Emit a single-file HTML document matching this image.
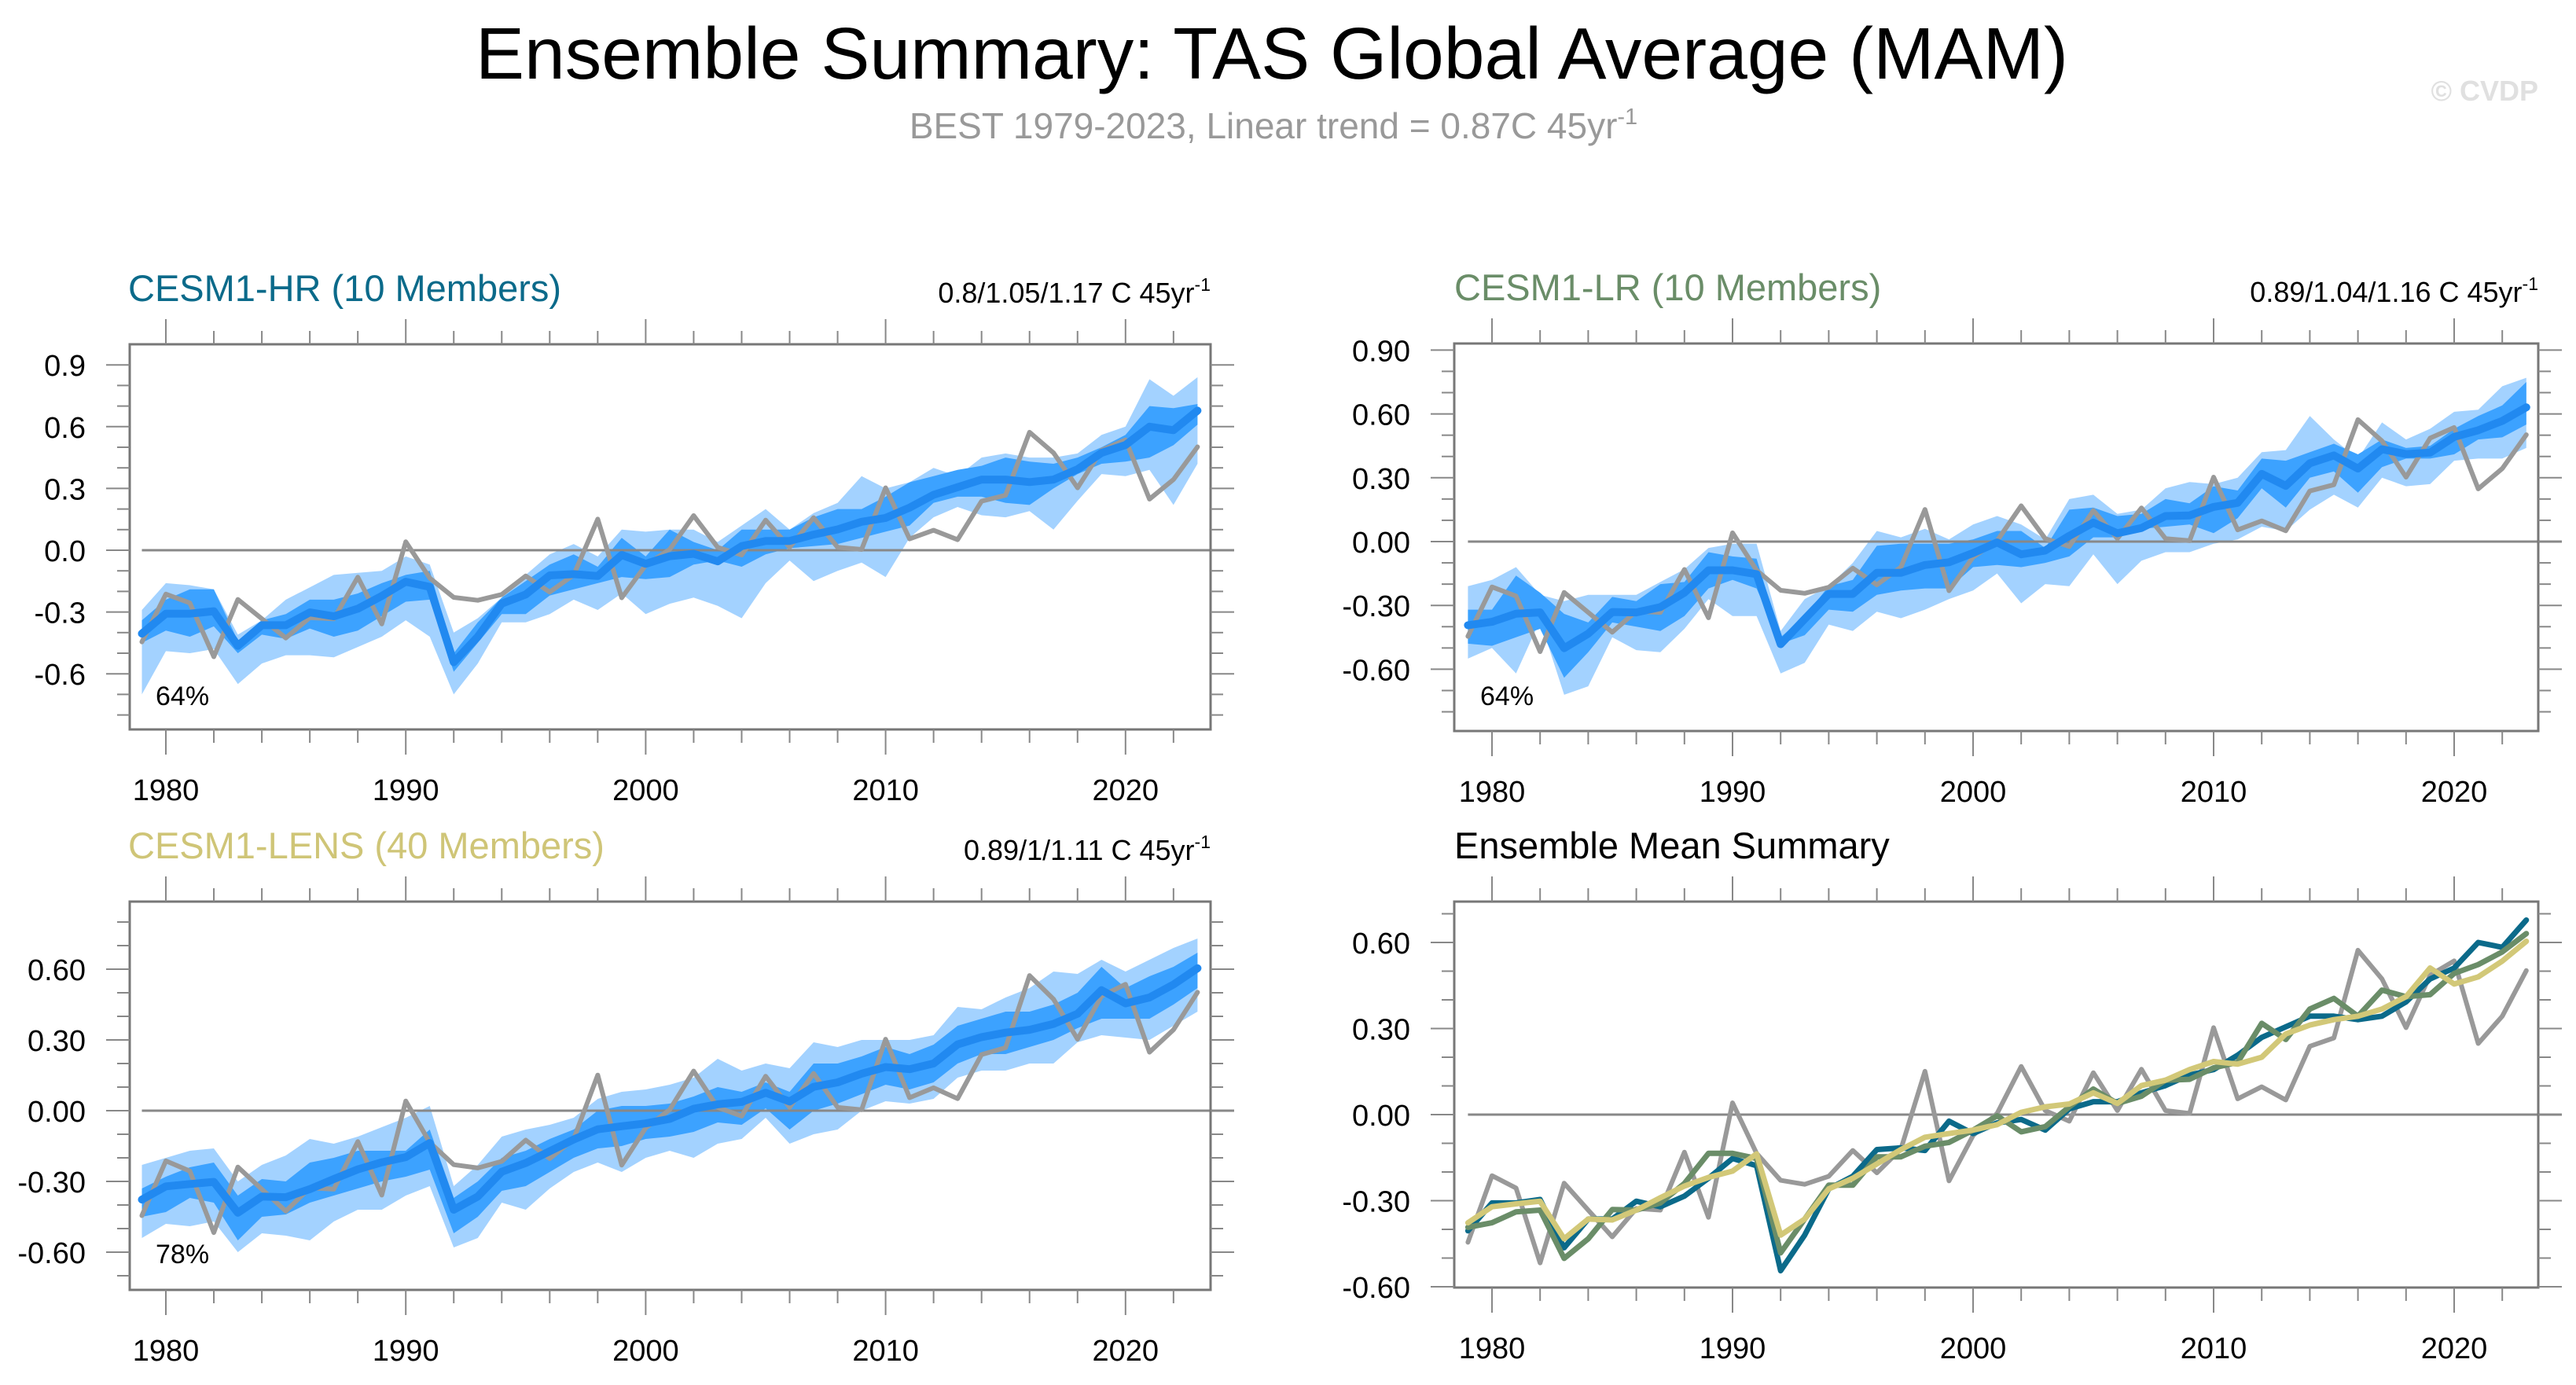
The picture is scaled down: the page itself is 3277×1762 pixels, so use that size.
<!DOCTYPE html>
<html><head><meta charset="utf-8"><style>
html,body{margin:0;padding:0;background:#fff;}
svg{display:block;font-family:"Liberation Sans",sans-serif;}
</style></head><body>
<svg id="chart" width="3277" height="1762" viewBox="0 0 3277 1762" xmlns="http://www.w3.org/2000/svg">
<text x="1618" y="100" font-size="93" text-anchor="middle" fill="#000">Ensemble Summary: TAS Global Average (MAM)</text>
<text x="1620" y="176" font-size="46" text-anchor="middle" fill="#999">BEST 1979-2023, Linear trend = 0.87C 45yr<tspan dy="-18" font-size="29">-1</tspan></text>
<text x="3229" y="128" font-size="36" font-weight="bold" text-anchor="end" fill="#e0e0e0">© CVDP</text>
</svg>
<script>
const years = [];
for (let y = 1979; y <= 2023; y++) years.push(y);
const obs = [-0.445,-0.213,-0.256,-0.517,-0.239,-0.333,-0.426,-0.327,-0.333,-0.131,-0.358,0.041,-0.135,-0.229,-0.243,-0.215,-0.125,-0.203,-0.12,0.151,-0.231,-0.073,0.004,0.168,0.014,-0.023,0.146,0.014,0.158,0.014,0.004,0.303,0.055,0.097,0.051,0.238,0.267,0.573,0.473,0.303,0.486,0.536,0.248,0.343,0.502];
const hrMean = [-0.405,-0.308,-0.308,-0.296,-0.464,-0.364,-0.364,-0.302,-0.321,-0.284,-0.222,-0.153,-0.178,-0.544,-0.42,-0.259,-0.215,-0.122,-0.116,-0.125,-0.023,-0.066,-0.029,-0.017,-0.054,0.02,0.045,0.045,0.076,0.101,0.138,0.157,0.207,0.269,0.306,0.343,0.343,0.331,0.343,0.393,0.473,0.511,0.6,0.583,0.678];
const lrMean = [-0.393,-0.377,-0.339,-0.333,-0.501,-0.433,-0.331,-0.333,-0.308,-0.24,-0.135,-0.135,-0.153,-0.482,-0.364,-0.246,-0.246,-0.147,-0.147,-0.11,-0.097,-0.054,-0.004,-0.06,-0.042,0.027,0.089,0.039,0.064,0.12,0.123,0.163,0.182,0.318,0.262,0.368,0.405,0.343,0.434,0.411,0.418,0.492,0.523,0.567,0.631];
const lensMean = [-0.377,-0.321,-0.311,-0.302,-0.433,-0.364,-0.367,-0.333,-0.29,-0.249,-0.219,-0.197,-0.137,-0.42,-0.364,-0.259,-0.222,-0.172,-0.122,-0.079,-0.066,-0.054,-0.035,0.008,0.027,0.037,0.076,0.039,0.101,0.12,0.157,0.185,0.176,0.2,0.281,0.312,0.331,0.343,0.368,0.411,0.511,0.455,0.48,0.535,0.604];
const hrLightHi = [-0.29,-0.16,-0.17,-0.19,-0.41,-0.34,-0.24,-0.18,-0.12,-0.11,-0.1,-0.03,-0.07,-0.4,-0.33,-0.23,-0.12,-0.02,0.03,-0.03,0.1,0.09,0.1,0.1,0.04,0.12,0.2,0.1,0.18,0.23,0.36,0.3,0.33,0.4,0.36,0.45,0.47,0.45,0.45,0.47,0.56,0.6,0.83,0.75,0.84];
const hrLightLo = [-0.7,-0.49,-0.5,-0.48,-0.65,-0.55,-0.51,-0.51,-0.52,-0.47,-0.42,-0.34,-0.42,-0.7,-0.55,-0.35,-0.35,-0.31,-0.24,-0.29,-0.21,-0.31,-0.26,-0.23,-0.27,-0.33,-0.16,-0.05,-0.15,-0.1,-0.06,-0.13,0.06,0.16,0.21,0.17,0.16,0.19,0.1,0.24,0.37,0.36,0.39,0.22,0.42];
const hrDarkHi = [-0.34,-0.24,-0.19,-0.19,-0.44,-0.34,-0.31,-0.24,-0.24,-0.21,-0.16,-0.12,-0.1,-0.5,-0.35,-0.23,-0.15,-0.07,-0.02,-0.08,0.06,-0.03,0.1,0.04,0.0,0.1,0.1,0.1,0.16,0.2,0.2,0.26,0.33,0.36,0.39,0.41,0.45,0.43,0.42,0.45,0.5,0.56,0.7,0.69,0.71];
const hrDarkLo = [-0.45,-0.39,-0.42,-0.37,-0.5,-0.41,-0.43,-0.38,-0.42,-0.39,-0.32,-0.25,-0.24,-0.59,-0.45,-0.31,-0.31,-0.22,-0.19,-0.16,-0.13,-0.14,-0.13,-0.07,-0.05,-0.08,-0.02,0.01,0.02,0.03,0.06,0.09,0.12,0.23,0.26,0.26,0.23,0.22,0.3,0.37,0.42,0.43,0.45,0.51,0.61];
const lrLightHi = [-0.21,-0.18,-0.12,-0.25,-0.28,-0.25,-0.25,-0.25,-0.19,-0.13,-0.03,-0.01,-0.01,-0.42,-0.27,-0.21,-0.1,0.05,0.02,0.06,0.01,0.08,0.12,0.08,0.01,0.2,0.22,0.13,0.15,0.25,0.28,0.27,0.3,0.42,0.43,0.59,0.48,0.39,0.56,0.48,0.53,0.61,0.62,0.73,0.77];
const lrLightLo = [-0.55,-0.5,-0.62,-0.37,-0.72,-0.68,-0.45,-0.51,-0.52,-0.41,-0.27,-0.35,-0.35,-0.62,-0.57,-0.39,-0.42,-0.33,-0.36,-0.32,-0.27,-0.23,-0.15,-0.29,-0.2,-0.21,-0.06,-0.2,-0.09,-0.05,-0.05,-0.01,0.01,0.07,0.05,0.15,0.22,0.16,0.3,0.26,0.27,0.38,0.39,0.39,0.44];
const lrDarkHi = [-0.32,-0.32,-0.16,-0.24,-0.34,-0.38,-0.26,-0.28,-0.2,-0.19,-0.05,-0.07,-0.08,-0.45,-0.35,-0.21,-0.18,-0.02,-0.01,-0.01,-0.01,0.01,0.05,0.05,-0.03,0.15,0.16,0.12,0.13,0.2,0.18,0.26,0.24,0.39,0.38,0.42,0.46,0.41,0.48,0.44,0.45,0.53,0.59,0.64,0.75];
const lrDarkLo = [-0.48,-0.49,-0.45,-0.41,-0.64,-0.52,-0.38,-0.4,-0.42,-0.35,-0.22,-0.18,-0.22,-0.48,-0.44,-0.32,-0.33,-0.25,-0.23,-0.22,-0.22,-0.12,-0.11,-0.12,-0.1,-0.07,0.02,0.02,0.06,0.07,0.08,0.04,0.11,0.25,0.16,0.3,0.33,0.23,0.35,0.39,0.39,0.41,0.48,0.49,0.55];
const lensLightHi = [-0.23,-0.2,-0.17,-0.16,-0.3,-0.23,-0.19,-0.12,-0.14,-0.11,-0.07,-0.03,0.02,-0.32,-0.23,-0.11,-0.08,-0.06,-0.03,0.05,0.08,0.09,0.11,0.14,0.22,0.17,0.2,0.18,0.29,0.27,0.3,0.3,0.3,0.32,0.44,0.43,0.48,0.52,0.59,0.58,0.64,0.59,0.64,0.69,0.73];
const lensLightLo = [-0.54,-0.48,-0.49,-0.47,-0.6,-0.52,-0.53,-0.55,-0.47,-0.42,-0.42,-0.36,-0.32,-0.58,-0.54,-0.39,-0.42,-0.33,-0.26,-0.22,-0.26,-0.2,-0.17,-0.2,-0.14,-0.12,-0.03,-0.14,-0.1,-0.08,0.0,0.04,0.03,0.05,0.14,0.17,0.17,0.2,0.2,0.29,0.32,0.31,0.3,0.36,0.42];
const lensDarkHi = [-0.33,-0.28,-0.24,-0.22,-0.36,-0.29,-0.3,-0.22,-0.2,-0.17,-0.17,-0.17,-0.08,-0.37,-0.3,-0.2,-0.17,-0.12,-0.08,0.0,0.02,0.02,0.03,0.06,0.1,0.08,0.12,0.08,0.2,0.2,0.23,0.27,0.24,0.28,0.36,0.39,0.42,0.42,0.45,0.5,0.61,0.52,0.57,0.61,0.67];
const lensDarkLo = [-0.45,-0.43,-0.37,-0.39,-0.55,-0.45,-0.44,-0.39,-0.36,-0.33,-0.3,-0.28,-0.25,-0.52,-0.45,-0.34,-0.32,-0.26,-0.2,-0.16,-0.15,-0.12,-0.11,-0.09,-0.05,-0.06,0.01,-0.08,0.0,0.03,0.07,0.11,0.09,0.12,0.2,0.24,0.24,0.27,0.3,0.35,0.39,0.39,0.39,0.45,0.52];
const xTickYears = [1980,1990,2000,2010,2020];

const NS = "http://www.w3.org/2000/svg";
const svg = document.getElementById('chart');
function mk(tag, attrs, parent){
  const e = document.createElementNS(NS, tag);
  for (const k in attrs) e.setAttribute(k, attrs[k]);
  (parent||svg).appendChild(e);
  return e;
}

function panel(cfg){
  const g = mk('g', {});
  
  
  const xs = yr => cfg.x1980 + (yr - 1980) * cfg.xStep;
  const ys = v => cfg.y0 - v * cfg.yUnit;
  const L = cfg.left, R = cfg.right, T = cfg.top, B = cfg.bottom;
  function band(hi, lo, color, nm){
    let d = '';
    years.forEach((yr,i)=>{ d += (i?'L':'M') + xs(yr).toFixed(1) + ',' + ys(hi[i]).toFixed(1); });
    for (let i = years.length-1; i >= 0; i--) d += 'L' + xs(years[i]).toFixed(1) + ',' + ys(lo[i]).toFixed(1);
    const p = mk('path', {d: d + 'Z', fill: color, stroke: 'none'}, g);
    
    
  }
  function line(vals, color, w, nm){
    const pts = years.map((yr,i)=> xs(yr).toFixed(1) + ',' + ys(vals[i]).toFixed(1)).join(' ');
    const p = mk('polyline', {points: pts, fill: 'none', stroke: color, 'stroke-width': w, 'stroke-linejoin': 'round', 'stroke-linecap': 'round'}, g);
    
    
  }
  if (cfg.bands){
    band(cfg.bands[0], cfg.bands[1], '#a3d2ff', 'outer-spread-band');
    band(cfg.bands[2], cfg.bands[3], '#3ca2ff', 'inner-spread-band');
  }
  const z = mk('line', {x1: xs(1979), x2: R + 30, y1: ys(0), y2: ys(0), stroke: '#888', 'stroke-width': 3}, g);
  
  
  if (cfg.bands){
    line(obs, '#999', 6, 'best-observed-line');
    line(cfg.mean, '#2189f0', 10, 'ensemble-mean-line');
  } else {
    line(obs, '#999', 6, 'best-observed-line');
    line(hrMean, '#0b6a8a', 7, 'cesm1-hr-mean-line');
    line(lrMean, '#6a8d68', 7, 'cesm1-lr-mean-line');
    line(lensMean, '#d2c878', 7, 'cesm1-lens-mean-line');
  }
  const fr = mk('rect', {x: L, y: T, width: R-L, height: B-T, fill: 'none', stroke: '#777', 'stroke-width': 3}, g);
  
  
  for (let yr = 1980; yr <= 2022; yr += 2){
    const major = yr % 10 === 0;
    const len = major ? 32 : 17;
    const x = xs(yr);
    const t1 = mk('line', {x1: x, x2: x, y1: T, y2: T - len, stroke: '#888', 'stroke-width': 2}, g);
    
    
    const t2 = mk('line', {x1: x, x2: x, y1: B, y2: B + len, stroke: '#888', 'stroke-width': 2}, g);
    
    
  }
  xTickYears.forEach(yr => {
    const t = mk('text', {x: xs(yr), y: B + 90, 'font-size': 38, 'text-anchor': 'middle', fill: '#000'}, g);
    t.textContent = yr;
    
    
  });
  for (let k = cfg.minorLo; k <= cfg.minorHi; k++){
    const v = k / 10;
    const major = k % 3 === 0;
    const len = major ? 30 : 16;
    const y = ys(v);
    const a = mk('line', {x1: L, x2: L - len, y1: y, y2: y, stroke: '#888', 'stroke-width': 2}, g);
    
    
    const b = mk('line', {x1: R, x2: R + len, y1: y, y2: y, stroke: '#888', 'stroke-width': 2}, g);
    
    
    if (major){
      const t = mk('text', {x: L - 56, y: y + 14, 'font-size': 38, 'text-anchor': 'end', fill: '#000'}, g);
      t.textContent = v.toFixed(cfg.dec).replace('-0.00','0.00').replace(/^-0\.0$/,'0.0');
      
      
    }
  }
  const tl = mk('text', {x: cfg.titleX, y: T - 55, 'font-size': 47, fill: cfg.titleColor}, g);
  tl.textContent = cfg.title;
  
  
  if (cfg.trend){
    const tr = mk('text', {x: R, y: T - 53, 'font-size': 36, 'text-anchor': 'end', fill: '#000'}, g);
    tr.textContent = cfg.trend;
    const sp = mk('tspan', {dy: -15, 'font-size': 23}, tr);
    sp.textContent = '-1';
    
    
  }
  if (cfg.pct){
    const pc = mk('text', {x: L + 33, y: cfg.pctY, 'font-size': 34, fill: '#000'}, g);
    pc.textContent = cfg.pct;
    
    
  }
}

panel({name:'cesm1-hr-panel', left:165, right:1540, top:438, bottom:928, x1980:211, xStep:30.52, y0:700, yUnit:262,
  minorLo:-8, minorHi:9, dec:1, bands:[hrLightHi, hrLightLo, hrDarkHi, hrDarkLo], mean:hrMean,
  title:'CESM1-HR (10 Members)', titleColor:'#0b6a8a', titleX:163, trend:'0.8/1.05/1.17 C 45yr', pct:'64%', pctY:897});
panel({name:'cesm1-lr-panel', left:1850, right:3229, top:437, bottom:930, x1980:1898, xStep:30.6, y0:689, yUnit:270.7,
  minorLo:-8, minorHi:9, dec:2, bands:[lrLightHi, lrLightLo, lrDarkHi, lrDarkLo], mean:lrMean,
  title:'CESM1-LR (10 Members)', titleColor:'#6a8d68', titleX:1850, trend:'0.89/1.04/1.16 C 45yr', pct:'64%', pctY:897});
panel({name:'cesm1-lens-panel', left:165, right:1540, top:1147, bottom:1641, x1980:211, xStep:30.52, y0:1413, yUnit:300,
  minorLo:-7, minorHi:8, dec:2, bands:[lensLightHi, lensLightLo, lensDarkHi, lensDarkLo], mean:lensMean,
  title:'CESM1-LENS (40 Members)', titleColor:'#cfc577', titleX:163, trend:'0.89/1/1.11 C 45yr', pct:'78%', pctY:1607});
panel({name:'ensemble-mean-summary-panel', left:1850, right:3229, top:1147, bottom:1638, x1980:1898, xStep:30.6, y0:1418, yUnit:365,
  minorLo:-6, minorHi:7, dec:2, bands:null,
  title:'Ensemble Mean Summary', titleColor:'#000', titleX:1850, trend:null, pct:null});
</script>
</body></html>
